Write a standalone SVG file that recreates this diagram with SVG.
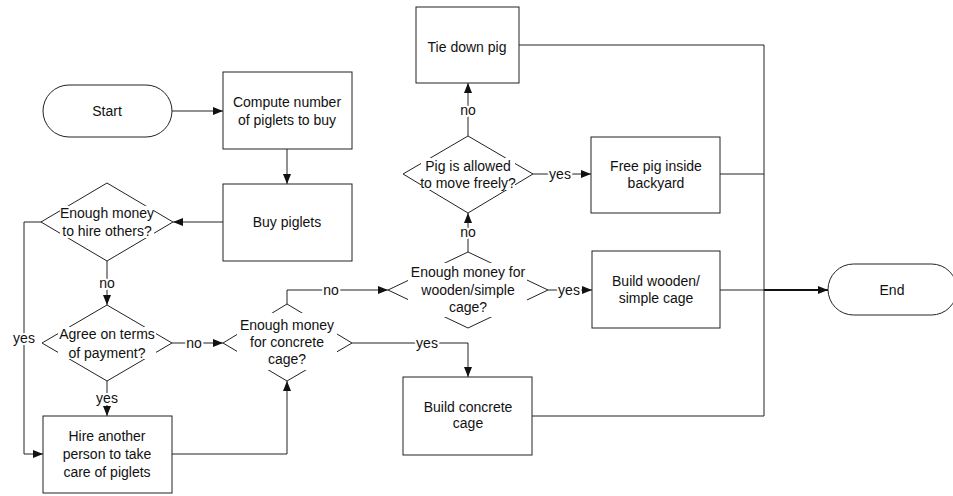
<svg xmlns="http://www.w3.org/2000/svg" width="953" height="496" viewBox="0 0 953 496">
<defs>
<marker id="ah" markerUnits="userSpaceOnUse" markerWidth="10" markerHeight="8" refX="10" refY="4" orient="auto">
<path d="M0,0 L10,4 L0,8 z" fill="#111"/>
</marker>
</defs>
<style>
.shape{fill:#fff;stroke:#222;stroke-width:1}
.bg{fill:#fff;stroke:none}
text{font-family:"Liberation Sans",Arial,sans-serif;font-size:14px;fill:#111;text-anchor:middle}
.lbl{stroke:#fff;stroke-width:4;paint-order:stroke;stroke-linejoin:round}
.c{fill:none;stroke:#222;stroke-width:1}
.ca{fill:none;stroke:#222;stroke-width:1;marker-end:url(#ah)}
.thick{fill:none;stroke:#111;stroke-width:2;marker-end:url(#ah)}
</style>
<rect width="953" height="496" fill="#fff"/>
<g id="connectors">
<path class="ca" d="M172,111 H223"/>
<path class="ca" d="M287,149 V184"/>
<path class="ca" d="M223,222 H173"/>
<path class="ca" d="M107,261 V305"/>
<path class="ca" d="M43,222 H24 V454 H43"/>
<path class="ca" d="M107,381 V416"/>
<path class="ca" d="M172,343 H223"/>
<path class="ca" d="M172,454 H287 V381"/>
<path class="ca" d="M287,304 V290 H388"/>
<path class="ca" d="M352,343 H468 V377"/>
<path class="ca" d="M548,290 H592"/>
<path class="ca" d="M468,252 V213"/>
<path class="ca" d="M468,136 V83"/>
<path class="ca" d="M533,174 H591"/>
<path class="c" d="M519,45 H764 V416"/>
<path class="c" d="M720,174 H764"/>
<path class="c" d="M532,416 H764"/>
<path class="c" d="M720,290 H764"/>
<path class="thick" d="M764,290 H828"/>
<text class="lbl" x="107" y="288">no</text>
<text class="lbl" x="24" y="343">yes</text>
<text class="lbl" x="107" y="403">yes</text>
<text class="lbl" x="194" y="348">no</text>
<text class="lbl" x="331" y="295">no</text>
<text class="lbl" x="427" y="348">yes</text>
<text class="lbl" x="569" y="295">yes</text>
<text class="lbl" x="468" y="237">no</text>
<text class="lbl" x="468" y="115">no</text>
<text class="lbl" x="560" y="179">yes</text>
</g>
<g id="start">
<rect class="shape" x="43" y="85" width="129" height="52" rx="26"/>
<text x="107" y="116">Start</text>
</g>
<g id="compute">
<rect class="shape" x="223" y="72" width="129" height="77"/>
<text x="287" y="107">Compute number</text>
<text x="287" y="125">of piglets to buy</text>
</g>
<g id="buy">
<rect class="shape" x="223" y="184" width="129" height="77"/>
<text x="287" y="227">Buy piglets</text>
</g>
<g id="d-hire">
<path class="shape" d="M107,183 L173,222 L107,261 L41,222 Z"/>
<rect class="bg" x="60" y="206" width="94" height="32"/>
<text x="107" y="218">Enough money</text>
<text x="107" y="236">to hire others?</text>
</g>
<g id="d-agree">
<path class="shape" d="M107,305 L172,343 L107,381 L42,343 Z"/>
<rect class="bg" x="58" y="327" width="98" height="32"/>
<text x="107" y="339">Agree on terms</text>
<text x="107" y="358">of payment?</text>
</g>
<g id="hire">
<rect class="shape" x="43" y="416" width="129" height="77"/>
<text x="107" y="441">Hire another</text>
<text x="107" y="459">person to take</text>
<text x="107" y="477">care of piglets</text>
</g>
<g id="d-concrete">
<path class="shape" d="M287,304 L352,343 L287,381 L223,343 Z"/>
<rect class="bg" x="237" y="313" width="100" height="57"/>
<text x="287" y="330">Enough money</text>
<text x="287" y="347">for concrete</text>
<text x="287" y="364">cage?</text>
</g>
<g id="d-wooden">
<path class="shape" d="M468,252 L548,290 L468,328 L388,290 Z"/>
<rect class="bg" x="408" y="263" width="119" height="54"/>
<text x="468" y="277">Enough money for</text>
<text x="468" y="295">wooden/simple</text>
<text x="468" y="312">cage?</text>
</g>
<g id="concrete">
<rect class="shape" x="403" y="377" width="129" height="78"/>
<text x="468" y="412">Build concrete</text>
<text x="468" y="428">cage</text>
</g>
<g id="wooden">
<rect class="shape" x="592" y="251" width="128" height="77"/>
<text x="656" y="286">Build wooden/</text>
<text x="656" y="303">simple cage</text>
</g>
<g id="d-pig">
<path class="shape" d="M468,136 L533,174 L468,213 L403,174 Z"/>
<rect class="bg" x="421" y="158" width="94" height="32"/>
<text x="468" y="171">Pig is allowed</text>
<text x="468" y="188">to move freely?</text>
</g>
<g id="tie">
<rect class="shape" x="416" y="7" width="103" height="76"/>
<text x="467" y="52">Tie down pig</text>
</g>
<g id="free">
<rect class="shape" x="591" y="137" width="129" height="76"/>
<text x="656" y="171">Free pig inside</text>
<text x="656" y="188">backyard</text>
</g>
<g id="end">
<rect class="shape" x="828" y="264" width="129" height="51" rx="25.5"/>
<text x="892" y="295">End</text>
</g>
</svg>
